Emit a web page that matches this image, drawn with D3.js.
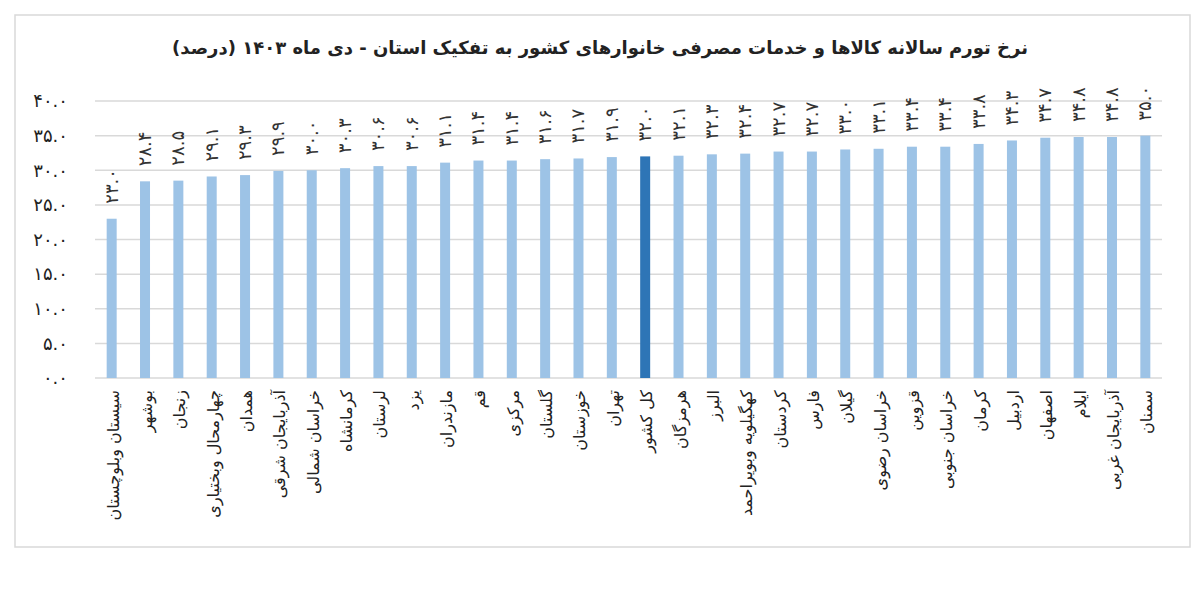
<!DOCTYPE html>
<html>
<head>
<meta charset="utf-8">
<script src="https://cdn.jsdelivr.net/npm/d3@7"></script>
<style>
  body { margin: 0; background: #fff; }
  text { font-family: "DejaVu Sans", sans-serif; }
</style>
</head>
<body>
<script>
var provinces = ["سیستان وبلوچستان", "بوشهر", "زنجان", "چهارمحال وبختیاری", "همدان",
  "آذربایجان شرقی", "خراسان شمالی", "کرمانشاه", "لرستان", "یزد", "مازندران", "قم",
  "مرکزی", "گلستان", "خوزستان", "تهران", "کل کشور", "هرمزگان", "البرز",
  "کهگیلویه وبویراحمد", "کردستان", "فارس", "گیلان", "خراسان رضوی", "قزوین",
  "خراسان جنوبی", "کرمان", "اردبیل", "اصفهان", "ایلام", "آذربایجان غربی", "سمنان"];
var inflation = [23.0, 28.4, 28.5, 29.1, 29.3, 29.9, 30.0, 30.3, 30.6, 30.6, 31.1, 31.4,
  31.4, 31.6, 31.7, 31.9, 32.0, 32.1, 32.3, 32.4, 32.7, 32.7, 33.0, 33.1, 33.4,
  33.4, 33.8, 34.3, 34.7, 34.8, 34.8, 35.0];
var highlight = "کل کشور";
var yTicks = [0, 5, 10, 15, 20, 25, 30, 35, 40];
var title = "نرخ تورم سالانه کالاها و خدمات مصرفی خانوارهای کشور به تفکیک استان - دی ماه ۱۴۰۳ (درصد)";

var width = 1200, height = 594;
var margin = {left: 95, right: 38, top: 101, bottom: 216};

function fa(s) {
  return String(s).replace(/[0-9]/g, d => "۰۱۲۳۴۵۶۷۸۹"[d]);
}

var svg = d3.select("body").append("svg")
  .attr("width", width)
  .attr("height", height);

// frame
svg.append("rect")
  .attr("x", 15).attr("y", 15)
  .attr("width", 1175).attr("height", 532)
  .attr("fill", "#fff")
  .attr("stroke", "#d9d9d9")
  .attr("stroke-width", 1.5);

svg.append("text")
  .attr("x", 600).attr("y", 54)
  .attr("text-anchor", "middle")
  .attr("font-size", 18)
  .attr("font-weight", "bold")
  .attr("fill", "#222")
  .text(title);

var x = d3.scaleBand()
  .domain(provinces)
  .range([margin.left, width - margin.right])
  .paddingInner(0.7)
  .paddingOuter(0.35);

var y = d3.scaleLinear()
  .domain([0, 40])
  .range([height - margin.bottom, margin.top]);

// gridlines
svg.append("g")
  .selectAll("line")
  .data(yTicks)
  .enter()
  .append("line")
  .attr("x1", margin.left)
  .attr("x2", width - margin.right)
  .attr("y1", d => y(d))
  .attr("y2", d => y(d))
  .attr("stroke", "#d9d9d9")
  .attr("stroke-width", 1.5);

// y axis labels
var yAxis = svg.append("g")
  .attr("transform", "translate(68,0)")
  .call(d3.axisLeft(y).tickValues(yTicks).tickSize(0).tickPadding(0)
    .tickFormat(d => fa(d.toFixed(1))));
yAxis.select(".domain").remove();
yAxis.selectAll("text")
  .attr("font-size", 18)
  .attr("font-family", "DejaVu Sans")
  .attr("fill", "#222");

// bars
svg.append("g")
  .selectAll("rect")
  .data(inflation)
  .enter()
  .append("rect")
  .attr("x", (d, i) => x(provinces[i]))
  .attr("y", d => y(d))
  .attr("width", x.bandwidth())
  .attr("height", d => y(0) - y(d))
  .attr("fill", (d, i) => provinces[i] == highlight ? "#2e75b6" : "#9dc3e6");

// value labels
svg.append("g")
  .selectAll("text")
  .data(inflation)
  .enter()
  .append("text")
  .attr("transform", (d, i) =>
    "translate(" + (x(provinces[i]) + x.bandwidth() / 2 + 6) + "," + (y(d) - 15) + ") rotate(-90)")
  .attr("text-anchor", "start")
  .attr("font-size", 18)
  .attr("fill", "#333")
  .text(d => fa(d.toFixed(1)));

// category labels
svg.append("g")
  .selectAll("text")
  .data(provinces)
  .enter()
  .append("text")
  .attr("transform", d =>
    "translate(" + (x(d) + x.bandwidth() / 2 + 7) + "," + (y(0) + 12) + ") rotate(-90)")
  .attr("text-anchor", "end")
  .attr("font-size", 16)
  .attr("fill", "#222")
  .text(d => d);
</script>
</body>
</html>
